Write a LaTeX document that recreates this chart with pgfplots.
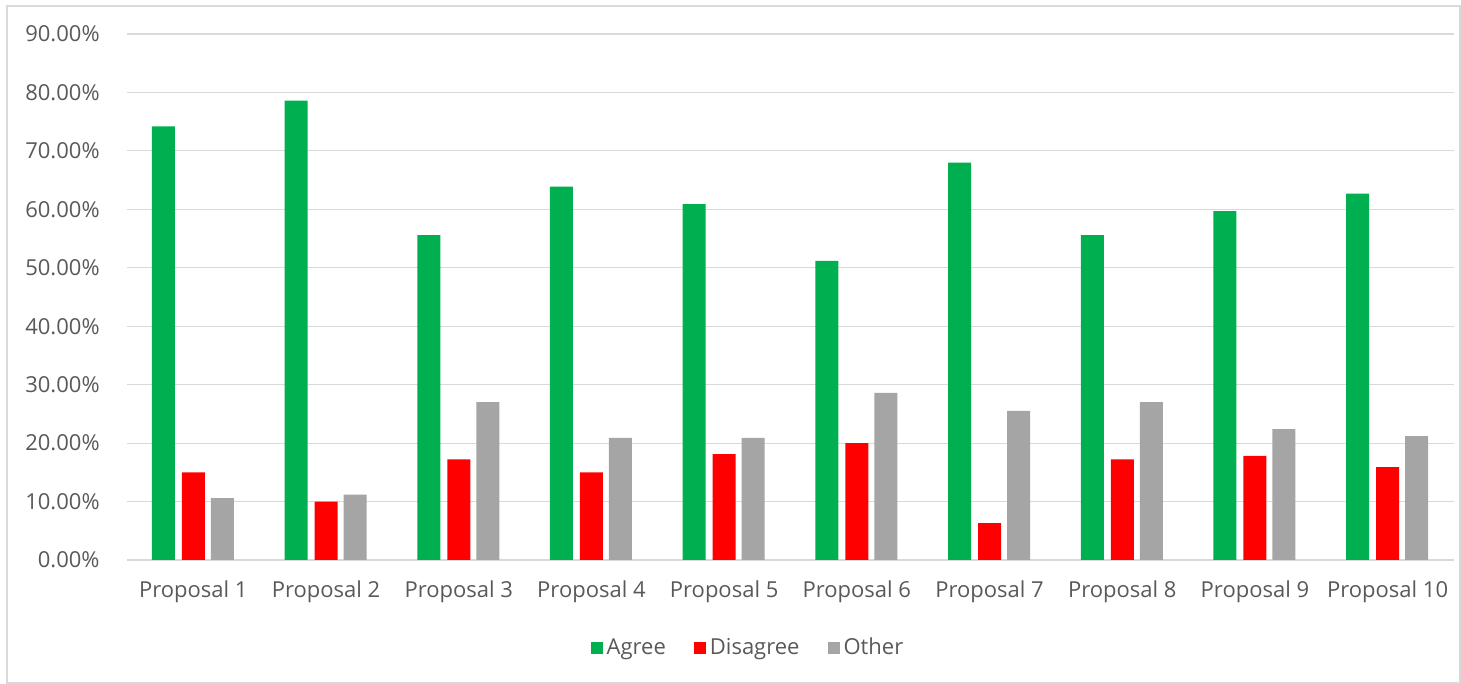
\documentclass[border=0pt]{standalone}
\usepackage{fontspec}
\setmainfont{Open Sans}
\usepackage{pgfplots}
\pgfplotsset{compat=1.18}

\definecolor{agree}{HTML}{00B050}
\definecolor{disagree}{HTML}{FF0000}
\definecolor{other}{HTML}{A5A5A5}
\definecolor{gridc}{HTML}{D9D9D9}
\definecolor{txt}{HTML}{595959}

\begin{document}
\begin{tikzpicture}
\path[use as bounding box] (0,0) rectangle (730.5pt,342pt);
\draw[gridc, line width=0.6pt] (3.5pt,0.5pt) rectangle (730pt,339pt);
\begin{axis}[
    at={(63.5pt,62pt)}, anchor=south west,
    scale only axis,
    width=663.5pt, height=263pt,
    ybar, bar width=11.5pt,
    xmin=-0.5, xmax=9.5,
    ymin=0, ymax=90,
    xtick={0,...,9},
    xticklabels={Proposal 1,Proposal 2,Proposal 3,Proposal 4,Proposal 5,
                 Proposal 6,Proposal 7,Proposal 8,Proposal 9,Proposal 10},
    ytick={0,10,...,90},
    yticklabels={0.00\%,10.00\%,20.00\%,30.00\%,40.00\%,50.00\%,60.00\%,70.00\%,80.00\%,90.00\%},
    major tick length=0pt,
    axis line style={draw=none},
    ymajorgrids, grid style={gridc, line width=0.6pt},
    every tick label/.append style={font=\fontsize{11}{13}\selectfont, text=txt},
    xticklabel style={anchor=base, yshift=-19pt},
    yticklabel style={anchor=east, inner sep=0pt, xshift=-13.5pt},
    legend columns=3,
    legend style={draw=none, fill=none, font=\fontsize{11}{13}\selectfont, text=txt,
        at={(axis description cs:0.4687,-0.1673)}, anchor=center,
        /tikz/every even column/.append style={column sep=12pt}},
    legend image code/.code={\fill[#1] (-1.5pt,-3pt) rectangle (4.5pt,3pt);},
]
\addplot[fill=agree, draw=none, bar shift=-15pt] coordinates {
    (0,74.2) (1,78.6) (2,55.6) (3,63.9) (4,60.9)
    (5,51.2) (6,68.0) (7,55.6) (8,59.7) (9,62.7) };
\addlegendentry{Agree}
\addplot[fill=disagree, draw=none, bar shift=0pt] coordinates {
    (0,15.0) (1,10.0) (2,17.2) (3,15.0) (4,18.1)
    (5,20.0) (6,6.3) (7,17.2) (8,17.8) (9,15.9) };
\addlegendentry{Disagree}
\addplot[fill=other, draw=none, bar shift=14.5pt] coordinates {
    (0,10.6) (1,11.2) (2,27.0) (3,20.9) (4,20.9)
    (5,28.6) (6,25.5) (7,27.0) (8,22.4) (9,21.2) };
\addlegendentry{Other}
\end{axis}
\end{tikzpicture}
\end{document}
